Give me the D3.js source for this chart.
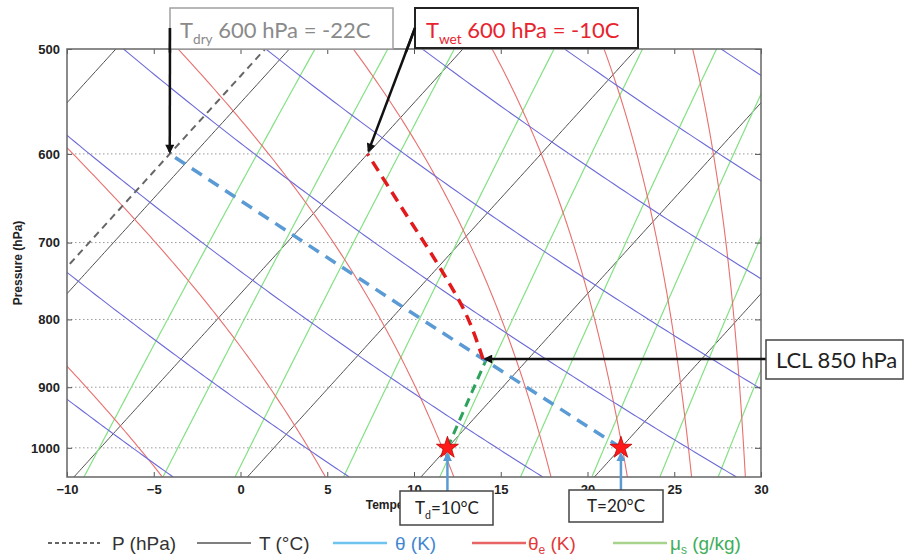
<!DOCTYPE html>
<html>
<head>
<meta charset="utf-8">
<script src="https://cdn.jsdelivr.net/npm/d3@7"></script>
<style>
  body { margin: 0; background: #fff; }
</style>
</head>
<body>
<div id="chart"></div>
<script>
// axis ticks
const pressureTicks = [500, 600, 700, 800, 900, 1000];
const tempTicks = [-10, -5, 0, 5, 10, 15, 20, 25, 30];

// background lines
const isotherms = [-30, -20, -10, 0, 10, 20]; // C
const dryAdiabats = [265, 275, 286, 297, 307, 318, 328, 339]; // theta, K
const moistAdiabats = [-4.9, 4.5, 11.9, 17.5, 21.9, 25.6, 28.7, 31.4]; // T (C) at bottom of plot
const mixingRatios = [1.78, 2.53, 3.45, 5.4, 7.9, 10.75, 14, 17.9, 22]; // g/kg

// the parcel
const surface = [{ p: 1000, T: 20 }, { p: 1000, T: 10 }];
const dryPath = [{ p: 1000, T: 20 }, { p: 857, T: 7.4 }, { p: 600, T: -21.4 }];
const wetPath = [{ p: 857, T: 7.4 }, { p: 783, T: 3.5 }, { p: 747, T: 1.2 }, { p: 650, T: -5.9 }, { p: 600, T: -10 }];
const dewPath = [{ p: 1000, T: 10 }, { p: 857, T: 7.6 }];
const dryIsotherm = -21.4;
const lcl = { p: 857, T: 7.4 };

// legend
const legendItems = [
  { label: "P (hPa)", sub: "", rest: "", line: "#333", text: "#333", dash: "4,3", x: 48 },
  { label: "T (°C)", sub: "", rest: "", line: "#555", text: "#333", dash: null, x: 197 },
  { label: "θ (K)", sub: "", rest: "", line: "#6ec3ef", text: "#3f86d0", dash: null, x: 333 },
  { label: "θ", sub: "e", rest: " (K)", line: "#e86464", text: "#e23a3a", dash: null, x: 472 },
  { label: "μ", sub: "s", rest: " (g/kg)", line: "#a8d38d", text: "#3fae5a", dash: null, x: 613 },
];

const width = 904;
const height = 557;
const plotLeft = 67, plotRight = 761, plotTop = 49, plotBottom = 477;

const x = d3.scaleLinear().domain([-10, 30]).range([plotLeft, plotRight]);
const y = d3.scaleLog().domain([500, 1052]).range([plotTop, plotBottom]);

// skew: temperature shifted along log pressure
const K = 30.14;
const P0 = 1066;
const skewX = (T, p) => x(T + K * Math.log(P0 / p));

// helper functions (thermo)
const Rd = 287.04, Cp = 1005.7, Lv = 2.501e6, eps = 0.622;
const satVap = (Tc) => 6.112 * Math.exp((17.67 * Tc) / (Tc + 243.5));
const moistLapse = (TK, p) => {
  const es = satVap(TK - 273.15);
  const rs = (eps * es) / (p - es);
  return (Rd * TK + Lv * rs) / (p * (Cp + (Lv * Lv * rs * eps) / (Rd * TK * TK)));
};

const levels = d3.range(0, 139).map((i) => 1052 - i * 4);

const dryLine = (theta) =>
  levels.map((p) => ({ p: p, T: theta * Math.pow(p / 1000, 0.286) - 273.15 }));

const moistLine = (T0) => {
  let TK = T0 + 273.15;
  const out = [{ p: levels[0], T: T0 }];
  for (let i = 1; i < levels.length; i++) {
    let p = levels[i - 1];
    const h = (levels[i] - p) / 4;
    for (let k = 0; k < 4; k++) {
      const k1 = moistLapse(TK, p);
      const k2 = moistLapse(TK + (h / 2) * k1, p + h / 2);
      TK += h * k2;
      p += h;
    }
    out.push({ p: levels[i], T: TK - 273.15 });
  }
  return out;
};

const mixLine = (w) =>
  levels.map((p) => {
    const es = (w * p) / (622 + w);
    const a = Math.log(es / 6.112);
    return { p: p, T: (243.5 * a) / (17.67 - a) };
  });

const line = d3
  .line()
  .x((d) => skewX(d.T, d.p))
  .y((d) => y(d.p));

const svg = d3
  .select("#chart")
  .append("svg")
  .attr("width", width)
  .attr("height", height)
  .style("font-family", "Lato, sans-serif");

const defs = svg.append("defs");
defs
  .append("clipPath")
  .attr("id", "plot-clip")
  .append("rect")
  .attr("x", plotLeft)
  .attr("y", plotTop)
  .attr("width", plotRight - plotLeft)
  .attr("height", plotBottom - plotTop);

const addMarker = (id, color) =>
  defs
    .append("marker")
    .attr("id", id)
    .attr("viewBox", "0 0 10 10")
    .attr("refX", 8)
    .attr("refY", 5)
    .attr("markerWidth", 4.2)
    .attr("markerHeight", 3.6)
    .attr("orient", "auto")
    .append("path")
    .attr("d", "M0,0L10,5L0,10z")
    .attr("fill", color);
addMarker("arrow-black", "#111");
addMarker("arrow-blue", "#5b9bd5");

// dotted grid
svg
  .append("g")
  .selectAll("line")
  .data(pressureTicks.slice(1))
  .join("line")
  .attr("x1", plotLeft)
  .attr("x2", plotRight)
  .attr("y1", (d) => y(d))
  .attr("y2", (d) => y(d))
  .attr("stroke", "#9a9a9a")
  .attr("stroke-width", 1)
  .attr("stroke-dasharray", "1.5,2.5");

const plot = svg.append("g").attr("clip-path", "url(#plot-clip)");

plot
  .append("g")
  .selectAll("path")
  .data(isotherms)
  .join("path")
  .attr("d", (T) => line(levels.map((p) => ({ p: p, T: T }))))
  .attr("fill", "none")
  .attr("stroke", "#505050")
  .attr("stroke-width", 1);

plot
  .append("g")
  .selectAll("path")
  .data(mixingRatios)
  .join("path")
  .attr("d", (w) => line(mixLine(w)))
  .attr("fill", "none")
  .attr("stroke", "#84e184")
  .attr("stroke-width", 1.2);

plot
  .append("g")
  .selectAll("path")
  .data(moistAdiabats)
  .join("path")
  .attr("d", (T0) => line(moistLine(T0)))
  .attr("fill", "none")
  .attr("stroke", "#e8706e")
  .attr("stroke-width", 1.1);

plot
  .append("g")
  .selectAll("path")
  .data(dryAdiabats)
  .join("path")
  .attr("d", (th) => line(dryLine(th)))
  .attr("fill", "none")
  .attr("stroke", "#6c6ad8")
  .attr("stroke-width", 1.1);

// annotation lines
plot
  .append("path")
  .attr("d", line(levels.map((p) => ({ p: p, T: dryIsotherm }))))
  .attr("fill", "none")
  .attr("stroke", "#666")
  .attr("stroke-width", 2)
  .attr("stroke-dasharray", "7,5");

const dashed = [
  { data: dewPath, color: "#2ca25a", w: 3, dash: "9,6" },
  { data: dryPath, color: "#5b9bd5", w: 3.5, dash: "12,8" },
  { data: wetPath, color: "#e31a1c", w: 3.5, dash: "11,7" },
];
svg
  .append("g")
  .selectAll("path")
  .data(dashed)
  .join("path")
  .attr("d", (d) => line.curve(d3.curveMonotoneY)(d.data))
  .attr("fill", "none")
  .attr("stroke", (d) => d.color)
  .attr("stroke-width", (d) => d.w)
  .attr("stroke-dasharray", (d) => d.dash);
line.curve(d3.curveLinear);

// axes
const styleAxis = (g) => {
  g.select(".domain").remove();
  g.selectAll(".tick line").attr("stroke", "#555");
  g.selectAll("text")
    .attr("font-family", "'Liberation Sans', Arial, sans-serif")
    .attr("font-weight", "bold")
    .attr("font-size", 13)
    .attr("fill", "#222");
};

svg
  .append("g")
  .attr("transform", `translate(0,${plotBottom})`)
  .call(d3.axisBottom(x).tickValues(tempTicks).tickSizeInner(-5).tickSizeOuter(0).tickPadding(8))
  .call(styleAxis);
svg
  .append("g")
  .attr("transform", `translate(0,${plotTop})`)
  .call(d3.axisTop(x).tickValues(tempTicks).tickSizeInner(-5).tickSizeOuter(0).tickFormat(""))
  .call(styleAxis);
svg
  .append("g")
  .attr("transform", `translate(${plotLeft},0)`)
  .call(d3.axisLeft(y).tickValues(pressureTicks).tickFormat(d3.format("d")).tickSizeInner(-5).tickSizeOuter(0).tickPadding(7))
  .call(styleAxis);
svg
  .append("g")
  .attr("transform", `translate(${plotRight},0)`)
  .call(d3.axisRight(y).tickValues(pressureTicks).tickSizeInner(-6).tickSizeOuter(0).tickFormat(""))
  .call(styleAxis);

svg
  .append("rect")
  .attr("x", plotLeft)
  .attr("y", plotTop)
  .attr("width", plotRight - plotLeft)
  .attr("height", plotBottom - plotTop)
  .attr("fill", "none")
  .attr("stroke", "#666")
  .attr("stroke-width", 1.5);

svg
  .append("text")
  .attr("x", (plotLeft + plotRight) / 2)
  .attr("y", 509)
  .attr("text-anchor", "middle")
  .attr("font-family", "'Liberation Sans', Arial, sans-serif")
  .attr("font-weight", "bold")
  .attr("font-size", 12)
  .attr("fill", "#222")
  .text("Temperature (°C)");

svg
  .append("text")
  .attr("transform", `translate(22,${(plotTop + plotBottom) / 2}) rotate(-90)`)
  .attr("text-anchor", "middle")
  .attr("font-family", "'Liberation Sans', Arial, sans-serif")
  .attr("font-weight", "bold")
  .attr("font-size", 12)
  .attr("fill", "#222")
  .text("Pressure (hPa)");

// stars at the surface
svg
  .append("g")
  .selectAll("path")
  .data(surface)
  .join("path")
  .attr("transform", (d) => `translate(${skewX(d.T, d.p)},${y(d.p)})`)
  .attr("d", d3.symbol(d3.symbolStar).size(150))
  .attr("fill", "#ff1a1a")
  .attr("stroke", "#c00000")
  .attr("stroke-width", 0.8);

// arrows
const lclX = skewX(lcl.T, lcl.p);
const arrows = [
  { x1: 170, y1: 28, x2: skewX(dryIsotherm, 600), y2: y(600) - 2, id: "arrow-black", c: "#111" },
  { x1: 415, y1: 28, x2: skewX(-10, 600) + 1, y2: y(600) - 3, id: "arrow-black", c: "#111" },
  { x1: 766, y1: y(lcl.p), x2: lclX + 2, y2: y(lcl.p), id: "arrow-black", c: "#111" },
  { x1: skewX(10, 1000), y1: 491, x2: skewX(10, 1000), y2: y(1000) + 6, id: "arrow-blue", c: "#5b9bd5" },
  { x1: skewX(20, 1000), y1: 490, x2: skewX(20, 1000), y2: y(1000) + 6, id: "arrow-blue", c: "#5b9bd5" },
];
svg
  .append("g")
  .selectAll("line")
  .data(arrows)
  .join("line")
  .attr("x1", (d) => d.x1)
  .attr("y1", (d) => d.y1)
  .attr("x2", (d) => d.x2)
  .attr("y2", (d) => d.y2)
  .attr("stroke", (d) => d.c)
  .attr("stroke-width", 2.5)
  .attr("marker-end", (d) => `url(#${d.id})`);

// text boxes
const boxes = [
  { x: 170, y: 8, w: 223, h: 41, stroke: "#a0a0a0", sw: 1.5, fill: "#8a8a8a", size: 22, tx: 180, ty: 38, parts: ["T", "dry", " 600 hPa = -22C"] },
  { x: 415, y: 8, w: 223, h: 40, stroke: "#222", sw: 2, fill: "#e8232d", size: 22, tx: 426, ty: 38, parts: ["T", "wet", " 600 hPa = -10C"] },
  { x: 766, y: 340, w: 137, h: 39, stroke: "#444", sw: 1.5, fill: "#222", size: 22, tx: 776, ty: 368, parts: ["LCL 850 hPa", "", ""] },
  { x: 400, y: 491, w: 93, h: 34, stroke: "#444", sw: 1.5, fill: "#222", size: 17, tx: 415, ty: 514, parts: ["T", "d", "=10°C"] },
  { x: 569, y: 490, w: 94, h: 32, stroke: "#444", sw: 1.5, fill: "#222", size: 17, tx: 587, ty: 512, parts: ["T=20°C", "", ""] },
];
const box = svg.append("g").selectAll("g").data(boxes).join("g");
box
  .append("rect")
  .attr("x", (d) => d.x)
  .attr("y", (d) => d.y)
  .attr("width", (d) => d.w)
  .attr("height", (d) => d.h)
  .attr("fill", "#fff")
  .attr("stroke", (d) => d.stroke)
  .attr("stroke-width", (d) => d.sw);
const boxText = box
  .append("text")
  .attr("x", (d) => d.tx)
  .attr("y", (d) => d.ty)
  .attr("font-size", (d) => d.size)
  .attr("fill", (d) => d.fill);
boxText.append("tspan").text((d) => d.parts[0]);
boxText
  .append("tspan")
  .attr("dy", (d) => d.size * 0.28)
  .attr("font-size", (d) => d.size * 0.62)
  .text((d) => d.parts[1]);
boxText
  .append("tspan")
  .attr("dy", (d) => (d.parts[1] ? -d.size * 0.28 : 0))
  .text((d) => d.parts[2]);

// redraw the arrow tails over the box borders
svg
  .append("g")
  .selectAll("line")
  .data(arrows.slice(0, 2))
  .join("line")
  .attr("x1", (d) => d.x1)
  .attr("y1", (d) => d.y1)
  .attr("x2", (d) => d.x1 + (d.x2 - d.x1) * 0.2)
  .attr("y2", (d) => d.y1 + (d.y2 - d.y1) * 0.2)
  .attr("stroke", "#111")
  .attr("stroke-width", 2.5);

// legend
const legend = svg
  .append("g")
  .selectAll("g")
  .data(legendItems)
  .join("g")
  .attr("transform", (d) => `translate(${d.x},543)`);
legend
  .append("line")
  .attr("x1", 0)
  .attr("x2", (d, i) => (i === 0 ? 52 : 54))
  .attr("stroke", (d) => d.line)
  .attr("stroke-width", (d, i) => (i < 2 ? 1.5 : 2.5))
  .attr("stroke-dasharray", (d) => d.dash);
const legendText = legend
  .append("text")
  .attr("x", (d, i) => [64, 62, 62, 56, 57][i])
  .attr("y", 7)
  .attr("font-size", 19)
  .attr("font-family", "'Liberation Sans Narrow', 'Liberation Sans', sans-serif")
  .attr("fill", (d) => d.text);
legendText.append("tspan").text((d) => d.label);
legendText
  .append("tspan")
  .attr("dy", 4)
  .attr("font-size", 12)
  .text((d) => d.sub);
legendText
  .append("tspan")
  .attr("dy", (d) => (d.sub ? -4 : 0))
  .text((d) => d.rest);
</script>
</body>
</html>
